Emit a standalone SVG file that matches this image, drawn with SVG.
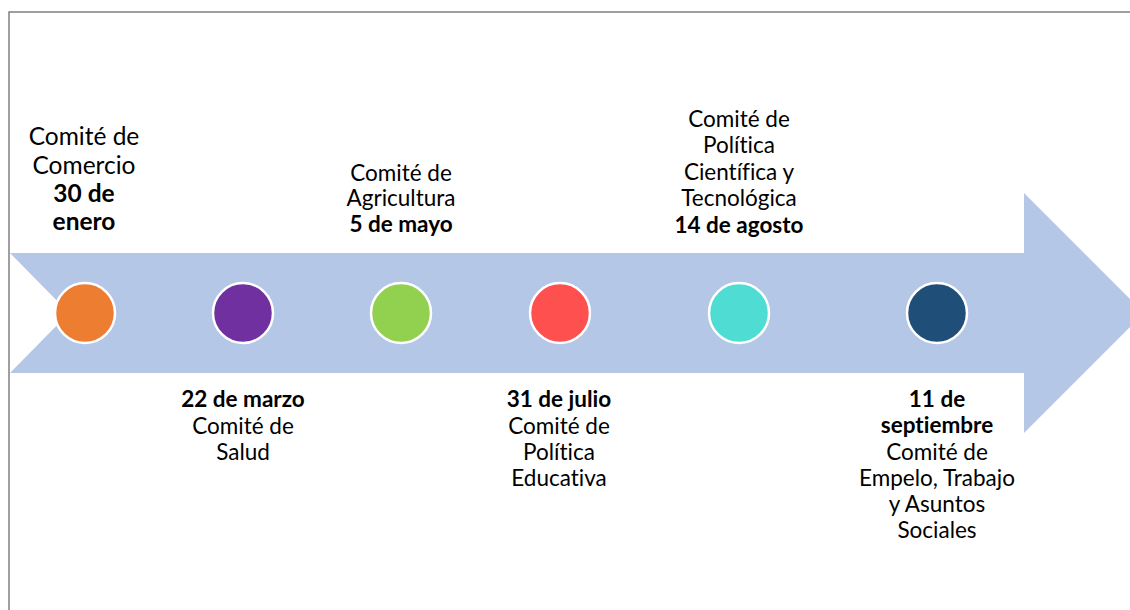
<svg xmlns="http://www.w3.org/2000/svg" width="1130" height="610" viewBox="0 0 1130 610">
<style>
.t{font-family:Lato,"Liberation Sans",sans-serif;font-size:22.5px;fill:#000;text-anchor:middle;font-variant-ligatures:none;font-feature-settings:"liga" 0,"dlig" 0}
.b{font-weight:bold}
.big{font-size:24.5px}
.dot{stroke:#fff;stroke-width:2.5}
</style>
<rect width="1130" height="610" fill="#fff"/>
<path d="M9,610 V12 H1130" fill="none" stroke="#808080" stroke-width="1.5"/>
<g id="connectors">
<polygon id="arrow" points="10,253 1024,253 1024,193 1144,313 1024,433 1024,373 10,373 69,313" fill="#B4C7E7"/>
</g>
<g id="n1"><circle class="dot" cx="85" cy="313" r="30" fill="#ED7D31"/>
<text class="t big" x="84"><tspan x="84" y="145">Comité de</tspan><tspan x="84" y="174">Comercio</tspan><tspan class="b" x="84" y="202">30 de</tspan><tspan class="b" x="84" y="230">enero</tspan></text></g>
<g id="n2"><circle class="dot" cx="243" cy="313" r="30" fill="#7030A0"/>
<text class="t" x="243"><tspan class="b" x="243" y="407">22 de marzo</tspan><tspan x="243" y="434">Comité de</tspan><tspan x="243" y="460">Salud</tspan></text></g>
<g id="n3"><circle class="dot" cx="401" cy="313" r="30" fill="#92D050"/>
<text class="t" x="401"><tspan x="401" y="181">Comité de</tspan><tspan x="401" y="206">Agricultura</tspan><tspan class="b" x="401" y="232">5 de mayo</tspan></text></g>
<g id="n4"><circle class="dot" cx="560" cy="313" r="30" fill="#FF5050"/>
<text class="t" x="559"><tspan class="b" x="559" y="407">31 de julio</tspan><tspan x="559" y="434">Comité de</tspan><tspan x="559" y="460">Política</tspan><tspan x="559" y="486">Educativa</tspan></text></g>
<g id="n5"><circle class="dot" cx="739" cy="313" r="30" fill="#4FDDD3"/>
<text class="t" x="739"><tspan x="739" y="127">Comité de</tspan><tspan x="739" y="153">Política</tspan><tspan x="739" y="180">Científica y</tspan><tspan x="739" y="206">Tecnológica</tspan><tspan class="b" x="739" y="233">14 de agosto</tspan></text></g>
<g id="n6"><circle class="dot" cx="937" cy="313" r="30" fill="#1F4E79"/>
<text class="t" x="937"><tspan class="b" x="937" y="407">11 de</tspan><tspan class="b" x="937" y="433">septiembre</tspan><tspan x="937" y="460">Comité de</tspan><tspan x="937" y="486">Empelo, Trabajo</tspan><tspan x="937" y="512">y Asuntos</tspan><tspan x="937" y="538">Sociales</tspan></text></g>
</svg>
